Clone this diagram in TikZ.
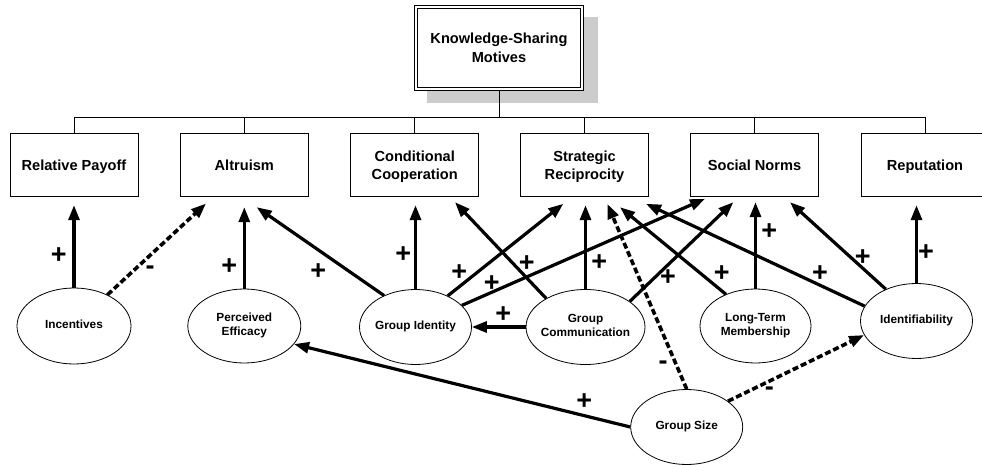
\documentclass[tikz,border=0pt]{standalone}
\usepackage{fontspec}
\setmainfont{Liberation Sans}
\usetikzlibrary{arrows.meta,shapes.geometric,backgrounds}

% text inside an ellipse: zero width so the ellipse keeps its set size
\newcommand\ovtext[1]{\makebox[0pt]{\begin{tabular}{@{}c@{}}#1\end{tabular}}}

\begin{document}
\begin{tikzpicture}[x=1pt,y=-1pt,
  headbox/.style={draw, line width=0.9pt, fill=white,
    rectangle, minimum width=169.1pt, minimum height=84.8pt, inner sep=0pt,
    align=center, text depth=0pt, font=\fontsize{14.6}{18.3}\selectfont\bfseries},
  motive/.style={draw, line width=0.9pt, rectangle, minimum width=128pt,
    minimum height=63.5pt, inner sep=0pt, align=center, text depth=0pt,
    font=\fontsize{14.6}{18.3}\selectfont\bfseries},
  factor/.style={draw, line width=0.8pt, ellipse, minimum width=112pt,
    minimum height=75pt, inner sep=0pt, font=\fontsize{11.8}{14.2}\selectfont\bfseries},
  link/.style={line width=3.2pt, -{Triangle[length=15pt,width=11pt]}},
  neglink/.style={link, line width=3.6pt, dash pattern=on 6pt off 3pt},
  sign/.style={inner sep=0pt, font=\fontsize{27}{27}\selectfont\bfseries},
  tree/.style={line width=0.9pt}
]
\useasboundingbox (0,0) rectangle (982,465);
\clip (0,0) rectangle (982,465);

% root of the hierarchy, with its inner frame line
\node[headbox] (ksm) at (499,47.85) {Knowledge-Sharing\\Motives};
\draw[line width=0.9pt] ([shift={(3.45,3.45)}]ksm.north west) rectangle ([shift={(-3.45,-3.45)}]ksm.south east);

% the six motives
\node[motive] (relpay) at (74,165)    {Relative Payoff};
\node[motive] (alt)    at (244.3,165) {Altruism};
\node[motive] (cc)     at (414.7,165) {Conditional\\Cooperation};
\node[motive] (sr)     at (584.5,165) {Strategic\\Reciprocity};
\node[motive] (sn)     at (754.5,165) {Social Norms};
\node[motive] (rep)    at (925,165)   {Reputation};

% antecedent factors
\node[factor, minimum width=114pt, minimum height=76pt] (inc) at (74,326) {\ovtext{Incentives}};
\node[factor, minimum width=113pt, minimum height=74pt] (pe)  at (244.3,326) {\ovtext{Perceived\\Efficacy}};
\node[factor] (gi)  at (415.5,327) {\ovtext{Group Identity}};
\node[factor, minimum width=119pt] (gc) at (585.5,327) {\ovtext{Group\\Communication}};
\node[factor, minimum width=111pt, minimum height=74pt] (ltm) at (755.5,326) {\ovtext{Long-Term\\Membership}};
\node[factor] (idf) at (916.5,321) {\ovtext{Identifiability}};
\node[factor] (gs)  at (686.7,427) {\ovtext{Group Size}};

% drop shadow of the root box
\begin{scope}[on background layer]
  \fill[black!20] ([shift={(-72.3,-30.85)}]ksm.center) rectangle ([shift={(99,55.45)}]ksm.center);
\end{scope}

% hierarchy lines
\coordinate (bus) at (499,117.3);
\draw[tree] (ksm.south) -- (ksm.south |- bus);
\foreach \b in {relpay,alt,cc,sr,sn,rep}
  \draw[tree] (ksm.south |- bus) -| (\b.north);

% causal links
\draw[link, shorten >=8pt] (inc) -- (inc |- relpay.south);
\draw[neglink] (inc.43) -- ([shift={(-38.3,6.3)}]alt.south);
\draw[link, shorten >=10pt] (pe) -- (pe |- alt.south);
\draw[link] (gi.135) -- ([shift={(12.4,10)}]alt.south);
\draw[link, shorten >=8pt] (gi) -- (gi |- cc.south);
\draw[link] (gi.44) -- ([shift={(-21.2,6.6)}]sr.south);
\draw[link] (gi.25) -- ([shift={(-49.5,1.6)}]sn.south);
\draw[link] (gc) -- (gi);
\draw[link] (gc.144) -- ([shift={(40.3,5)}]cc.south);
\draw[link, shorten >=8pt] (gc) -- (gc |- sr.south);
\draw[link] (gc.30) -- ([shift={(-21.2,5)}]sn.south);
\draw[neglink] (gs.north) -- ([shift={(22.8,6.6)}]sr.south);
\draw[link] (ltm.133) -- ([shift={(35.5,10)}]sr.south);
\draw[link, shorten >=5pt] (ltm) -- (ltm |- sn.south);
\draw[link] (idf.164) -- ([shift={(61.5,6.6)}]sr.south);
\draw[link] (idf.134) -- ([shift={(35.5,5)}]sn.south);
\draw[link, shorten >=8pt] (idf) -- (idf |- rep.south);
\draw[link] (gs.west) -- (pe.-20);
\draw[neglink] (gs.32) -- (idf.195);

% signs of the links
\node[sign] (s1)  at (58.7,256)    {+};
\node[sign] (s2)  at (150,270)     {-};
\node[sign] (s3)  at (229.3,266.7) {+};
\node[sign] (s4)  at (318.3,271.7) {+};
\node[sign] (s5)  at (403.3,255)   {+};
\node[sign] (s6)  at (459.3,272.7) {+};
\node[sign] (s7)  at (491.7,283.3) {+};
\node[sign] (s8)  at (503.3,315)   {+};
\node[sign] (s9)  at (526.7,263.3) {+};
\node[sign] (s10) at (599.3,262.7) {+};
\node[sign] (s11) at (668,278)     {+};
\node[sign] (s12) at (663,365.5)   {-};
\node[sign] (s13) at (721.7,274)   {+};
\node[sign] (s14) at (769.3,231.7) {+};
\node[sign] (s15) at (820,274)     {+};
\node[sign] (s16) at (862.7,257.7) {+};
\node[sign] (s17) at (926,252.7)   {+};
\node[sign] (s18) at (584.3,401.7) {+};
\node[sign] (s19) at (769.3,390.7) {-};
\end{tikzpicture}
\end{document}
